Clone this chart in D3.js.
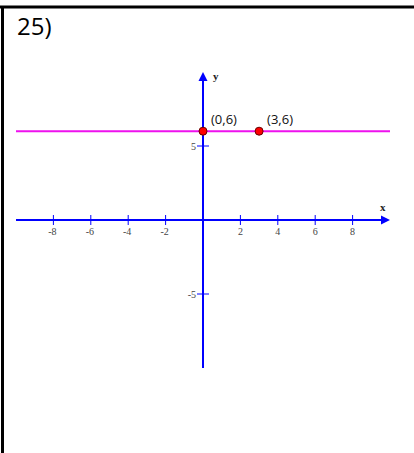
<!DOCTYPE html>
<html>
<head>
<meta charset="utf-8">
<script src="https://cdn.jsdelivr.net/npm/d3@7"></script>
<style>
  html, body { margin: 0; padding: 0; background: #fff; }
  svg { display: block; }
</style>
</head>
<body>
<div id="chart"></div>
<script>
// y = 6 horizontal line, two marked points
const xTicks = [-8, -6, -4, -2, 2, 4, 6, 8];
const yTicks = [5, -5];
const points = [{ x: 0, y: 6, label: "(0,6)" }, { x: 3, y: 6, label: "(3,6)" }];
const lineY = 6;
const domain = [-10, 10];

const W = 414, H = 453;
const svg = d3.select("#chart").append("svg").attr("width", W).attr("height", H);

// frame (left and top border of the worksheet cell)
svg.append("line").attr("x1", 0).attr("x2", W).attr("y1", 7).attr("y2", 7)
  .attr("stroke", "#000").attr("stroke-width", 3);
svg.append("line").attr("x1", 2.5).attr("x2", 2.5).attr("y1", 6).attr("y2", H)
  .attr("stroke", "#000").attr("stroke-width", 3);

svg.append("text").attr("x", 17).attr("y", 35)
  .style("font-family", "'Open Sans', 'Noto Sans', sans-serif").style("font-size", "24px")
  .text("25)");

const x = d3.scaleLinear().domain(domain).range([16, 390]);
const y = d3.scaleLinear().domain(domain).range([368, 72]);
const blue = "#0000ff";

// axes
svg.append("line").attr("x1", x(-10)).attr("x2", x(10) - 4).attr("y1", y(0)).attr("y2", y(0))
  .attr("stroke", blue).attr("stroke-width", 2);
svg.append("line").attr("x1", x(0)).attr("x2", x(0)).attr("y1", y(-10)).attr("y2", y(10) + 4)
  .attr("stroke", blue).attr("stroke-width", 2);
// arrowheads
svg.append("path")
  .attr("d", `M${x(10) - 9},${y(0) - 4.5}L${x(10)},${y(0)}L${x(10) - 9},${y(0) + 4.5}Z`)
  .attr("fill", blue);
svg.append("path")
  .attr("d", `M${x(0) - 4.5},${y(10) + 9}L${x(0)},${y(10)}L${x(0) + 4.5},${y(10) + 9}Z`)
  .attr("fill", blue);

// ticks
svg.selectAll("line.xt").data(xTicks).enter().append("line")
  .attr("x1", d => x(d)).attr("x2", d => x(d))
  .attr("y1", y(0) - 5).attr("y2", y(0) + 5)
  .attr("stroke", blue).attr("stroke-width", 1);
svg.selectAll("text.xt").data(xTicks).enter().append("text")
  .attr("x", d => x(d) + (d < 0 ? -1 : 0)).attr("y", y(0) + 15)
  .attr("text-anchor", "middle")
  .style("font-family", "'Liberation Serif', serif").style("font-size", "10px")
  .attr("fill", "#444").text(d => d);
svg.selectAll("line.yt").data(yTicks).enter().append("line")
  .attr("x1", x(0) - 6).attr("x2", x(0) + 6)
  .attr("y1", d => y(d)).attr("y2", d => y(d))
  .attr("stroke", blue).attr("stroke-width", 1);
svg.selectAll("text.yt").data(yTicks).enter().append("text")
  .attr("x", x(0) - 7).attr("y", d => y(d) + 3.5)
  .attr("text-anchor", "end")
  .style("font-family", "'Liberation Serif', serif").style("font-size", "10px")
  .attr("fill", "#444").text(d => d);

// axis names
svg.append("text").attr("x", x(0) + 10).attr("y", y(10) + 8)
  .style("font-family", "'Liberation Serif', serif").style("font-size", "11px")
  .style("font-weight", "bold").attr("fill", "#222").text("y");
svg.append("text").attr("x", x(10) - 10).attr("y", y(0) - 9)
  .style("font-family", "'Liberation Serif', serif").style("font-size", "11px")
  .style("font-weight", "bold").attr("fill", "#222").text("x");

// the line y = 6
svg.append("line").attr("x1", x(-10)).attr("x2", x(10)).attr("y1", y(lineY)).attr("y2", y(lineY))
  .attr("stroke", "#ee11ee").attr("stroke-width", 2);

// points
svg.selectAll("circle.pt").data(points).enter().append("circle")
  .attr("cx", d => x(d.x)).attr("cy", d => y(d.y)).attr("r", 4)
  .attr("fill", "#ff0000").attr("stroke", "#600").attr("stroke-width", 1);
svg.selectAll("text.pt").data(points).enter().append("text")
  .attr("x", d => x(d.x) + 8).attr("y", d => y(d.y) - 7)
  .style("font-family", "'Open Sans', 'Noto Sans', sans-serif").style("font-size", "13px")
  .attr("fill", "#111").text(d => d.label);
</script>
</body>
</html>
